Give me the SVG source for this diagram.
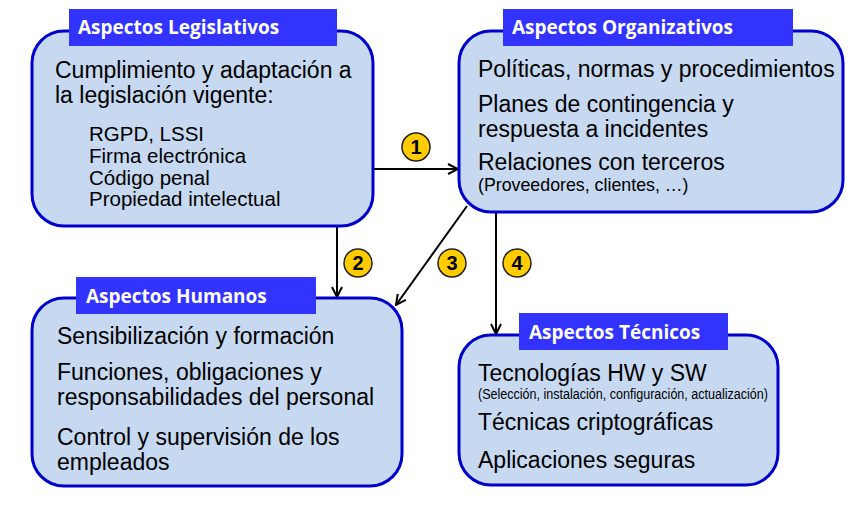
<svg xmlns="http://www.w3.org/2000/svg" width="859" height="511" viewBox="0 0 859 511">
<defs>
<style>
.box{fill:#c6d9f1;stroke:#0000cc;stroke-width:3}
.tab{fill:#3333ff}
.title{font-family:"Open Sans",sans-serif;font-weight:bold;font-size:19px;fill:#fff}
.t{font-family:"Liberation Sans",Arial,sans-serif;font-size:23px;fill:#000}
.s{font-family:"Liberation Sans",Arial,sans-serif;font-size:20.5px;fill:#000}
.p{font-family:"Liberation Sans",Arial,sans-serif;font-size:17.8px;fill:#000}
.c{fill:#ffcc00;stroke:#222;stroke-width:1.5}
.n{font-family:"Liberation Sans",Arial,sans-serif;font-weight:bold;font-size:20px;fill:#000;text-anchor:middle}
.line{stroke:#000;stroke-width:2;fill:none}
</style>
<marker id="arr" viewBox="0 0 12 12" refX="11" refY="6" markerWidth="12" markerHeight="12" markerUnits="userSpaceOnUse" orient="auto">
<path d="M1,1 L11,6 L1,11" fill="none" stroke="#000" stroke-width="2"/>
</marker>
</defs>
<rect width="859" height="511" fill="#fff"/>
<g id="connectors">
<line class="line" x1="373" y1="169" x2="458" y2="169" marker-end="url(#arr)"/>
<line class="line" x1="337" y1="227" x2="337" y2="297" marker-end="url(#arr)"/>
<line class="line" x1="467" y1="206" x2="396" y2="305" marker-end="url(#arr)"/>
<line class="line" x1="496" y1="212" x2="496" y2="334" marker-end="url(#arr)"/>
<circle class="c" cx="416" cy="147" r="14"/><text class="n" x="416" y="154">1</text>
<circle class="c" cx="358" cy="263" r="14"/><text class="n" x="358" y="270">2</text>
<circle class="c" cx="452" cy="263" r="14"/><text class="n" x="452" y="270">3</text>
<circle class="c" cx="517" cy="263" r="14"/><text class="n" x="517" y="270">4</text>
</g>
<g id="legislativos">
<rect class="box" x="32" y="31" width="341" height="195" rx="32"/>
<rect class="tab" x="69" y="9" width="268" height="37"/>
<text class="title" x="78" y="34">Aspectos Legislativos</text>
<text class="t" x="55" y="78">Cumplimiento y adaptación a</text>
<text class="t" x="55" y="103">la legislación vigente:</text>
<text class="s" x="89" y="141">RGPD, LSSI</text>
<text class="s" x="89" y="163">Firma electrónica</text>
<text class="s" x="89" y="185">Código penal</text>
<text class="s" x="89" y="206">Propiedad intelectual</text>
</g>
<g id="organizativos">
<rect class="box" x="459" y="31" width="384" height="181" rx="32"/>
<rect class="tab" x="503" y="9" width="290" height="37"/>
<text class="title" x="512" y="34">Aspectos Organizativos</text>
<text class="t" x="478" y="77">Políticas, normas y procedimientos</text>
<text class="t" x="478" y="112">Planes de contingencia y</text>
<text class="t" x="478" y="137">respuesta a incidentes</text>
<text class="t" x="478" y="170">Relaciones con terceros</text>
<text class="p" x="478" y="191">(Proveedores, clientes, …)</text>
</g>
<g id="humanos">
<rect class="box" x="32" y="298" width="370" height="188" rx="32"/>
<rect class="tab" x="76" y="277" width="240" height="37"/>
<text class="title" x="86" y="303">Aspectos Humanos</text>
<text class="t" x="57" y="344">Sensibilización y formación</text>
<text class="t" x="57" y="380">Funciones, obligaciones y</text>
<text class="t" x="57" y="405">responsabilidades del personal</text>
<text class="t" x="57" y="445">Control y supervisión de los</text>
<text class="t" x="57" y="470">empleados</text>
</g>
<g id="tecnicos">
<rect class="box" x="459" y="335" width="319" height="150" rx="32"/>
<rect class="tab" x="519" y="313" width="209" height="37"/>
<text class="title" x="529" y="339">Aspectos Técnicos</text>
<text class="t" x="478" y="381">Tecnologías HW y SW</text>
<text class="p" x="478" y="399" textLength="290" lengthAdjust="spacingAndGlyphs" style="font-size:14px">(Selección, instalación, configuración, actualización)</text>
<text class="t" x="478" y="430">Técnicas criptográficas</text>
<text class="t" x="478" y="468">Aplicaciones seguras</text>
</g>
</svg>
